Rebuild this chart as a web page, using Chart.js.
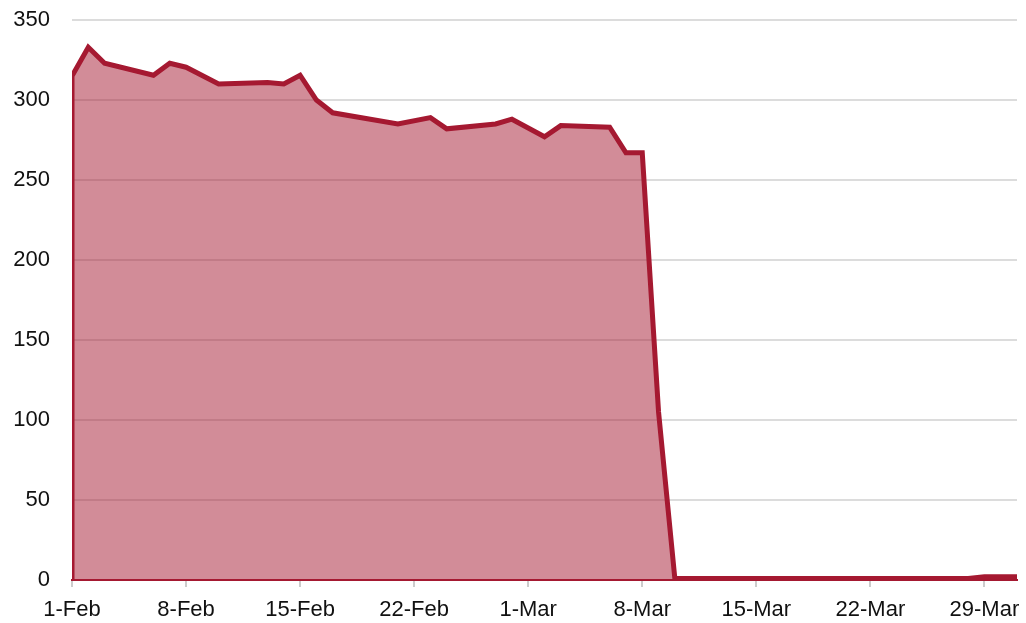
<!DOCTYPE html>
<html>
<head>
<meta charset="utf-8">
<script src="https://cdn.jsdelivr.net/npm/chart.js@4/dist/chart.umd.min.js"></script>
<style>
  html, body { margin: 0; padding: 0; background: #ffffff; }
  #wrap { width: 1026px; height: 623px; position: relative; }
</style>
</head>
<body>
<div id="wrap"><canvas id="c" width="1026" height="623"></canvas></div>
<script>
// Day offsets from 1-Feb (1-Mar = day 28)
const days   = [0, 0, 1, 2, 5, 6, 7, 9, 12, 13, 14, 15, 16, 20, 22, 23, 26, 27, 28, 29, 30, 33, 34, 35, 36, 37, 55, 56, 58];
const values = [0, 315, 333, 323, 315.5, 323, 320.5, 310, 311, 310, 315.5, 300, 292, 285, 289, 282, 285, 288, 282.5, 277, 284, 283, 267, 267, 105, 1, 1, 2, 2];
const tickDays   = [0, 7, 14, 21, 28, 35, 42, 49, 56];
const tickLabels = ['1-Feb', '8-Feb', '15-Feb', '22-Feb', '1-Mar', '8-Mar', '15-Mar', '22-Mar', '29-Mar'];
const yTicks = [0, 50, 100, 150, 200, 250, 300, 350];

const points = days.map((d, i) => ({ x: d, y: values[i] }));
const font = { family: "'Liberation Sans', Arial, sans-serif", size: 22 };

new Chart(document.getElementById('c'), {
  type: 'line',
  data: {
    datasets: [{
      data: points,
      borderColor: '#A51931',
      backgroundColor: 'rgba(165,25,50,0.5)',
      borderWidth: 5,
      fill: 'origin',
      pointRadius: 0,
      tension: 0,
      borderJoinStyle: 'miter',
      borderCapStyle: 'round'
    }]
  },
  options: {
    responsive: false,
    animation: false,
    layout: { padding: { top: 20, right: 9, left: 0, bottom: 0 } },
    plugins: { legend: { display: false }, tooltip: { enabled: false } },
    scales: {
      x: {
        type: 'linear',
        min: 0,
        max: 58,
        afterBuildTicks: (s) => { s.ticks = tickDays.map(v => ({ value: v })); },
        afterFit: (s) => { s.height = 43; s.paddingLeft = 0; s.paddingRight = 0; },
        ticks: {
          font: font,
          color: '#111111',
          padding: 10,
          maxRotation: 0,
          autoSkip: false,
          callback: (v) => { const i = tickDays.indexOf(v); return i >= 0 ? tickLabels[i] : ''; }
        },
        grid: { drawOnChartArea: false, drawTicks: true, tickLength: 7, color: '#cccccc', lineWidth: 2 },
        border: { display: true, color: '#A51931', width: 2 }
      },
      y: {
        min: 0,
        max: 350,
        afterBuildTicks: (s) => { s.ticks = yTicks.map(v => ({ value: v })); },
        afterFit: (s) => { s.width = 72; s.paddingTop = 0; s.paddingBottom = 0; },
        ticks: { font: font, color: '#111111', padding: 22 },
        grid: { drawTicks: false, color: '#dcdcdc', lineWidth: 2 },
        border: { display: false }
      }
    }
  }
});
</script>
</body>
</html>
